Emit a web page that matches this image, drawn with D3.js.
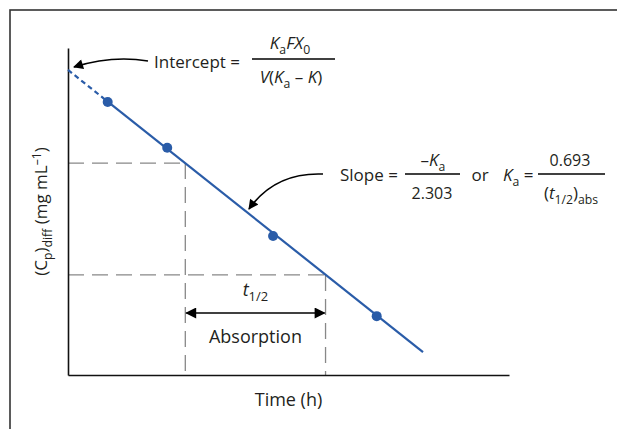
<!DOCTYPE html>
<html><head><meta charset="utf-8">
<script src="https://cdn.jsdelivr.net/npm/d3@7"></script>
<style>
body{margin:0;background:#fff}
text{font-family:"Open Sans",sans-serif;fill:#231f20}
</style>
</head><body>
<svg id="c" width="617" height="429"></svg>
<script>
// ---- data ----
const pointTimes = [0.9, 2.25, 4.65, 7.0];
const pointConc  = [8.35, 6.95, 4.25, 1.8];
const extrapTimes = [0, 0.9];        // dashed back-extrapolation
const extrapConc  = [9.33, 8.36];
const fitTimes = [0.9, 8.05];        // solid regression line
const fitConc  = [8.36, 0.70];
const halfLevels = [6.48, 3.06];
const halfTimes  = [2.66, 5.84];
const xDomain = [0, 10];
const yDomain = [0, 10];

const svg = d3.select("#c");
const blue = "#2a5ca8";

// frame
svg.append("rect").attr("x",10).attr("y",10).attr("width",640).attr("height",440)
  .attr("fill","none").attr("stroke","#333").attr("stroke-width",1.6);

const x = d3.scaleLinear().domain(xDomain).range([68, 509]);
const y = d3.scaleLinear().domain(yDomain).range([375, 48]);

// defs: arrowheads
const defs = svg.append("defs");
defs.append("marker").attr("id","ah").attr("viewBox","0 0 10 10").attr("refX",9).attr("refY",5)
  .attr("markerWidth",11).attr("markerHeight",10).attr("markerUnits","userSpaceOnUse").attr("orient","auto-start-reverse")
  .append("path").attr("d","M0,0 L10,5 L0,10 Z").attr("fill","#000");
defs.append("marker").attr("id","ah2").attr("viewBox","0 0 10 10").attr("refX",9).attr("refY",5)
  .attr("markerWidth",12).attr("markerHeight",11).attr("markerUnits","userSpaceOnUse").attr("orient","auto-start-reverse")
  .append("path").attr("d","M0,0 L10,5 L0,10 Z").attr("fill","#000");

// dashed guides
const g = svg.append("g");
halfLevels.forEach((c,i)=>{
  g.append("line").attr("x1",x(0)).attr("x2",x(halfTimes[i])).attr("y1",y(c)).attr("y2",y(c))
    .attr("stroke","#888").attr("stroke-width",1.3).attr("stroke-dasharray","16,8");
  g.append("line").attr("x1",x(halfTimes[i])).attr("x2",x(halfTimes[i])).attr("y1",y(c)).attr("y2",y(0))
    .attr("stroke","#888").attr("stroke-width",1.3).attr("stroke-dasharray","16,8");
});

// axes (no ticks)
svg.append("g").attr("transform",`translate(0,${y(0)})`)
  .call(d3.axisBottom(x).tickValues([]).tickSizeOuter(0))
  .select(".domain").attr("stroke","#111").attr("stroke-width",1.6);
svg.append("g").attr("transform",`translate(${x(0)},0)`)
  .call(d3.axisLeft(y).tickValues([]).tickSizeOuter(0))
  .select(".domain").attr("stroke","#111").attr("stroke-width",1.6);

// lines
const line = d3.line().x(d=>x(d[0])).y(d=>y(d[1]));
svg.append("path").attr("d", line(d3.zip(extrapTimes, extrapConc)))
  .attr("fill","none").attr("stroke",blue).attr("stroke-width",2.2).attr("stroke-dasharray","5,3.5");
svg.append("path").attr("d", line(d3.zip(fitTimes, fitConc)))
  .attr("fill","none").attr("stroke",blue).attr("stroke-width",2.2);
svg.selectAll("circle.pt").data(d3.zip(pointTimes, pointConc)).join("circle")
  .attr("cx",d=>x(d[0])).attr("cy",d=>y(d[1])).attr("r",5).attr("fill",blue);

// helper for rich text
function rich(parent, xx, yy, parts, anchor, size){
  size = size || 16;
  const t = parent.append("text").attr("x",xx).attr("y",yy).attr("text-anchor",anchor||"start")
    .style("font-size",size+"px");
  let shift = 0;
  parts.forEach(p=>{
    const ts = t.append("tspan").text(p.t);
    let target = p.sub ? size*0.28 : (p.sup ? -size*0.38 : 0);
    if (target !== shift) { ts.attr("dy", target - shift); shift = target; }
    if (p.sub || p.sup) ts.style("font-size", size*0.72+"px");
    if (p.i) ts.style("font-style","italic");
  });
  return t;
}

// Intercept annotation
svg.append("path").attr("d","M148,61 Q112,55 74,67").attr("fill","none").attr("stroke","#000")
  .attr("stroke-width",1.5).attr("marker-end","url(#ah)");
rich(svg,154,68,[{t:"Intercept ="}],"start",17);
svg.append("line").attr("x1",252).attr("x2",335).attr("y1",59).attr("y2",59).attr("stroke","#000").attr("stroke-width",1.3);
rich(svg,290,49,[{t:"K",i:1},{t:"a",sub:1},{t:"FX",i:1},{t:"0",sub:1}],"middle",17);
rich(svg,291,83,[{t:"V",i:1},{t:"("},{t:"K",i:1},{t:"a",sub:1},{t:" – "},{t:"K",i:1},{t:")"}],"middle",17);

// Slope annotation
svg.append("path").attr("d","M323,174 Q275,172 249,209").attr("fill","none").attr("stroke","#000")
  .attr("stroke-width",1.5).attr("marker-end","url(#ah)");
rich(svg,340,181,[{t:"Slope ="}],"start",17);
svg.append("line").attr("x1",405).attr("x2",460).attr("y1",174).attr("y2",174).attr("stroke","#000").attr("stroke-width",1.3);
rich(svg,433,166,[{t:"–"},{t:"K",i:1},{t:"a",sub:1}],"middle",17);
rich(svg,432,199,[{t:"2.303"}],"middle",16);
rich(svg,480,181,[{t:"or"}],"middle",17);
rich(svg,503,181,[{t:"K",i:1},{t:"a",sub:1},{t:" ="}],"start",17);
svg.append("line").attr("x1",538).attr("x2",605).attr("y1",174).attr("y2",174).attr("stroke","#000").attr("stroke-width",1.3);
rich(svg,570,166,[{t:"0.693"}],"middle",16);
rich(svg,571,199,[{t:"("},{t:"t",i:1},{t:"1/2",sub:1},{t:")"},{t:"abs",sub:1}],"middle",17);

// half-life arrow
svg.append("line").attr("x1",x(halfTimes[0])+1).attr("x2",x(halfTimes[1])-1).attr("y1",313).attr("y2",313)
  .attr("stroke","#000").attr("stroke-width",1.6).attr("marker-start","url(#ah2)").attr("marker-end","url(#ah2)");
rich(svg,(x(halfTimes[0])+x(halfTimes[1]))/2,296,[{t:"t",i:1},{t:"1/2",sub:1}],"middle",18);
rich(svg,(x(halfTimes[0])+x(halfTimes[1]))/2,343,[{t:"Absorption"}],"middle",18);

// axis titles
rich(svg,(x.range()[0]+x.range()[1])/2,406,[{t:"Time (h)"}],"middle",18);
const yl = svg.append("g").attr("transform",`translate(47,${(y.range()[0]+y.range()[1])/2}) rotate(-90)`);
rich(yl,0,0,[{t:"(C"},{t:"p",sub:1},{t:")"},{t:"diff",sub:1},{t:" (mg mL"},{t:"–1",sup:1},{t:")"}],"middle",17);
</script>
</body></html>
